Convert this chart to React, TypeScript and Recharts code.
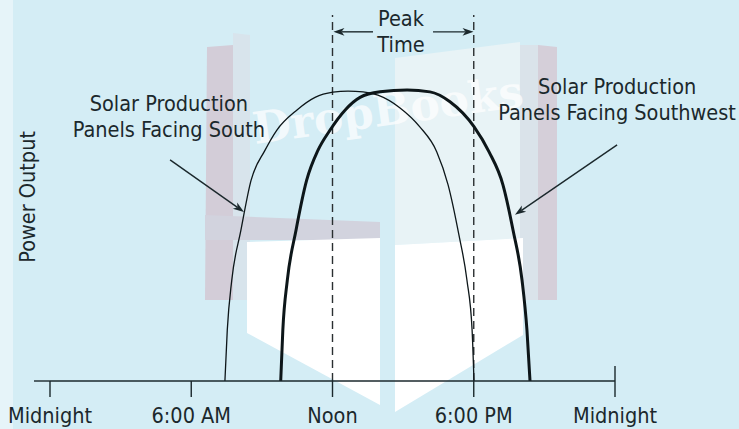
import React from "react";
import {
  LineChart,
  Line,
  XAxis,
  YAxis,
  ReferenceLine,
  ReferenceDot,
} from "recharts";

// hour of day -> relative power output
const HOURS_SOUTH = [7.43, 7.53, 7.72, 8.11, 8.54, 9.13, 9.63, 10.48, 11.26, 12.02, 12.66, 13.3, 13.93, 14.87, 15.7, 16.43, 16.91, 17.37, 17.71, 17.93, 18.01];
const POWER_SOUTH = [0, 13.9, 27.5, 41.2, 54.8, 63.0, 68.5, 74.0, 77.5, 78.9, 79.2, 79.0, 78.1, 74.6, 69.5, 62.6, 53.6, 39.9, 27.6, 13.9, 0];

const HOURS_SOUTHWEST = [9.8, 9.89, 10.08, 10.45, 10.9, 11.38, 11.89, 12.53, 13.17, 14.02, 15.17, 16.14, 16.99, 18.01, 18.65, 19.24, 19.67, 20.05, 20.26, 20.39];
const POWER_SOUTHWEST = [0, 13.9, 27.5, 41.2, 54.8, 63.0, 68.5, 74.0, 77.5, 79.0, 79.5, 79.0, 76.3, 69.5, 62.6, 53.6, 41.2, 27.6, 13.9, 0];

const TICK_HOURS = [0, 6, 12, 18, 24];
const TICK_LABELS = ["Midnight", "6:00 AM", "Noon", "6:00 PM", "Midnight"];
const PEAK_START = 12;
const PEAK_END = 18;

const southData = HOURS_SOUTH.map((h, i) => ({ h, p: POWER_SOUTH[i] }));
const southwestData = HOURS_SOUTHWEST.map((h, i) => ({ h, p: POWER_SOUTHWEST[i] }));

const FONT = "'DejaVu Sans Condensed', 'DejaVu Sans', sans-serif";
const INK = "#1b282c";
const BG = "#d4edf5";

/** line with a filled arrowhead at (x2, y2) */
function Arrow(props: any) {
  const { x1, y1, x2, y2 } = props;
  if ([x1, y1, x2, y2].some((v) => typeof v !== "number")) return null;
  const a = Math.atan2(y2 - y1, x2 - x1);
  const c = Math.cos(a);
  const s = Math.sin(a);
  const L = 11;
  const W = 3.8;
  const bx = x2 - L * c;
  const by = y2 - L * s;
  const nx = x2 - 8 * c;
  const ny = y2 - 8 * s;
  const pts = `${x2},${y2} ${bx - W * s},${by + W * c} ${nx},${ny} ${bx + W * s},${by - W * c}`;
  return (
    <g>
      <line x1={x1} y1={y1} x2={nx} y2={ny} stroke={INK} strokeWidth={1.4} />
      <polygon points={pts} fill={INK} />
    </g>
  );
}

function textBlock(lines: string[], opts: { rotate?: boolean } = {}) {
  return (props: any) => {
    const { cx, cy } = props;
    if (typeof cx !== "number" || typeof cy !== "number") return null;
    return (
      <text
        x={cx}
        y={cy}
        textAnchor="middle"
        fill={INK}
        fontSize={21.5}
        fontFamily={FONT}
        transform={opts.rotate ? `rotate(-90 ${cx} ${cy})` : undefined}
      >
        {lines.map((t, i) => (
          <tspan key={i} x={cx} dy={i === 0 ? 0 : 26}>
            {t}
          </tspan>
        ))}
      </text>
    );
  };
}

// faint book watermark behind the chart
function Watermark() {
  return (
    <svg width={739} height={429} style={{ position: "absolute", left: 0, top: 0 }}>
      <rect x={0} y={0} width={13} height={429} fill="#e6f4f9" />
      <polygon points="395,58 520,42 522,238 395,245" fill="#e8f3f6" />
      <polygon points="233,33 250,35 250,300 233,300" fill="#d8e4ec" />
      <polygon points="207,47 233,45 233,300 205,300" fill="#d3cdd8" />
      <polygon points="520,45 538,45 538,300 520,300" fill="#dae3ea" />
      <polygon points="538,45 557,47 557,300 538,300" fill="#d5cfd9" />
      <polygon points="205,215 380,222 380,240 205,240" fill="#d2d3de" />
      <polygon points="247,242 380,238 380,405 247,333" fill="#ffffff" />
      <polygon points="395,245 523,238 523,335 395,412" fill="#ffffff" />
      <text
        x={390}
        y={125}
        textAnchor="middle"
        fontFamily="'DejaVu Serif', serif"
        fontWeight="bold"
        fontSize={44}
        fill="#ffffff"
        opacity={0.7}
        transform="rotate(-8 390 125)"
      >
        DropBooks
      </text>
    </svg>
  );
}

export default function App() {
  return (
    <div style={{ position: "relative", width: 739, height: 429, background: BG, overflow: "hidden" }}>
      <style>{`body{margin:0}`}</style>
      <Watermark />
      <div style={{ position: "absolute", left: 0, top: 0 }}>
        <LineChart width={739} height={429} margin={{ top: 15, right: 124, bottom: 0, left: 50 }}>
          <XAxis
            dataKey="h"
            type="number"
            domain={[0, 24]}
            ticks={TICK_HOURS}
            interval={0}
            tickFormatter={(v: number) => TICK_LABELS[TICK_HOURS.indexOf(v)] ?? ""}
            tick={{ fill: INK, fontSize: 21.5, fontFamily: FONT }}
            tickSize={16}
            tickMargin={11}
            height={48}
            axisLine={{ stroke: INK, strokeWidth: 1.4 }}
            tickLine={{ stroke: INK, strokeWidth: 1.4 }}
          />
          <YAxis
            type="number"
            domain={[0, 100]}
            width={0}
            tick={false}
            tickLine={false}
            axisLine={{ stroke: INK, strokeWidth: 1.4 }}
          />
          {/* peak window */}
          <ReferenceLine x={PEAK_START} stroke="#2a2f31" strokeWidth={1.4} strokeDasharray="8 5" />
          <ReferenceLine x={PEAK_END} stroke="#2a2f31" strokeWidth={1.4} strokeDasharray="8 5" />
          {/* axis stub left of the y-axis and the raised end tick */}
          <ReferenceLine
            segment={[{ x: -0.68, y: 0 }, { x: 0, y: 0 }]}
            ifOverflow="visible"
            stroke={INK}
            strokeWidth={1.4}
          />
          <ReferenceLine
            segment={[{ x: 24, y: 0 }, { x: 24, y: 4.1 }]}
            ifOverflow="visible"
            stroke={INK}
            strokeWidth={1.4}
          />
          <Line
            data={southData}
            dataKey="p"
            type="monotone"
            stroke="#0d1619"
            strokeWidth={1.3}
            dot={false}
            activeDot={false}
            isAnimationActive={false}
          />
          <Line
            data={southwestData}
            dataKey="p"
            type="monotone"
            stroke="#0d1619"
            strokeWidth={3}
            dot={false}
            activeDot={false}
            isAnimationActive={false}
          />
          {/* annotations */}
          <ReferenceLine segment={[{ x: 13.72, y: 95.4 }, { x: 12.04, y: 95.4 }]} ifOverflow="visible" shape={Arrow} />
          <ReferenceLine segment={[{ x: 16.27, y: 95.4 }, { x: 17.99, y: 95.4 }]} ifOverflow="visible" shape={Arrow} />
          <ReferenceLine segment={[{ x: 5.1, y: 60.4 }, { x: 8.24, y: 46.2 }]} ifOverflow="visible" shape={Arrow} />
          <ReferenceLine segment={[{ x: 24.09, y: 64.5 }, { x: 19.75, y: 45.4 }]} ifOverflow="visible" shape={Arrow} />
          <ReferenceDot x={14.91} y={97.1} r={0} ifOverflow="visible" shape={textBlock(["Peak", "Time"])} />
          <ReferenceDot
            x={5.05}
            y={73.8}
            r={0}
            ifOverflow="visible"
            shape={textBlock(["Solar Production", "Panels Facing South"])}
          />
          <ReferenceDot
            x={24.09}
            y={78.4}
            r={0}
            ifOverflow="visible"
            shape={textBlock(["Solar Production", "Panels Facing Southwest"])}
          />
          <ReferenceDot x={-0.64} y={50.3} r={0} ifOverflow="visible" shape={textBlock(["Power Output"], { rotate: true })} />
        </LineChart>
      </div>
    </div>
  );
}
